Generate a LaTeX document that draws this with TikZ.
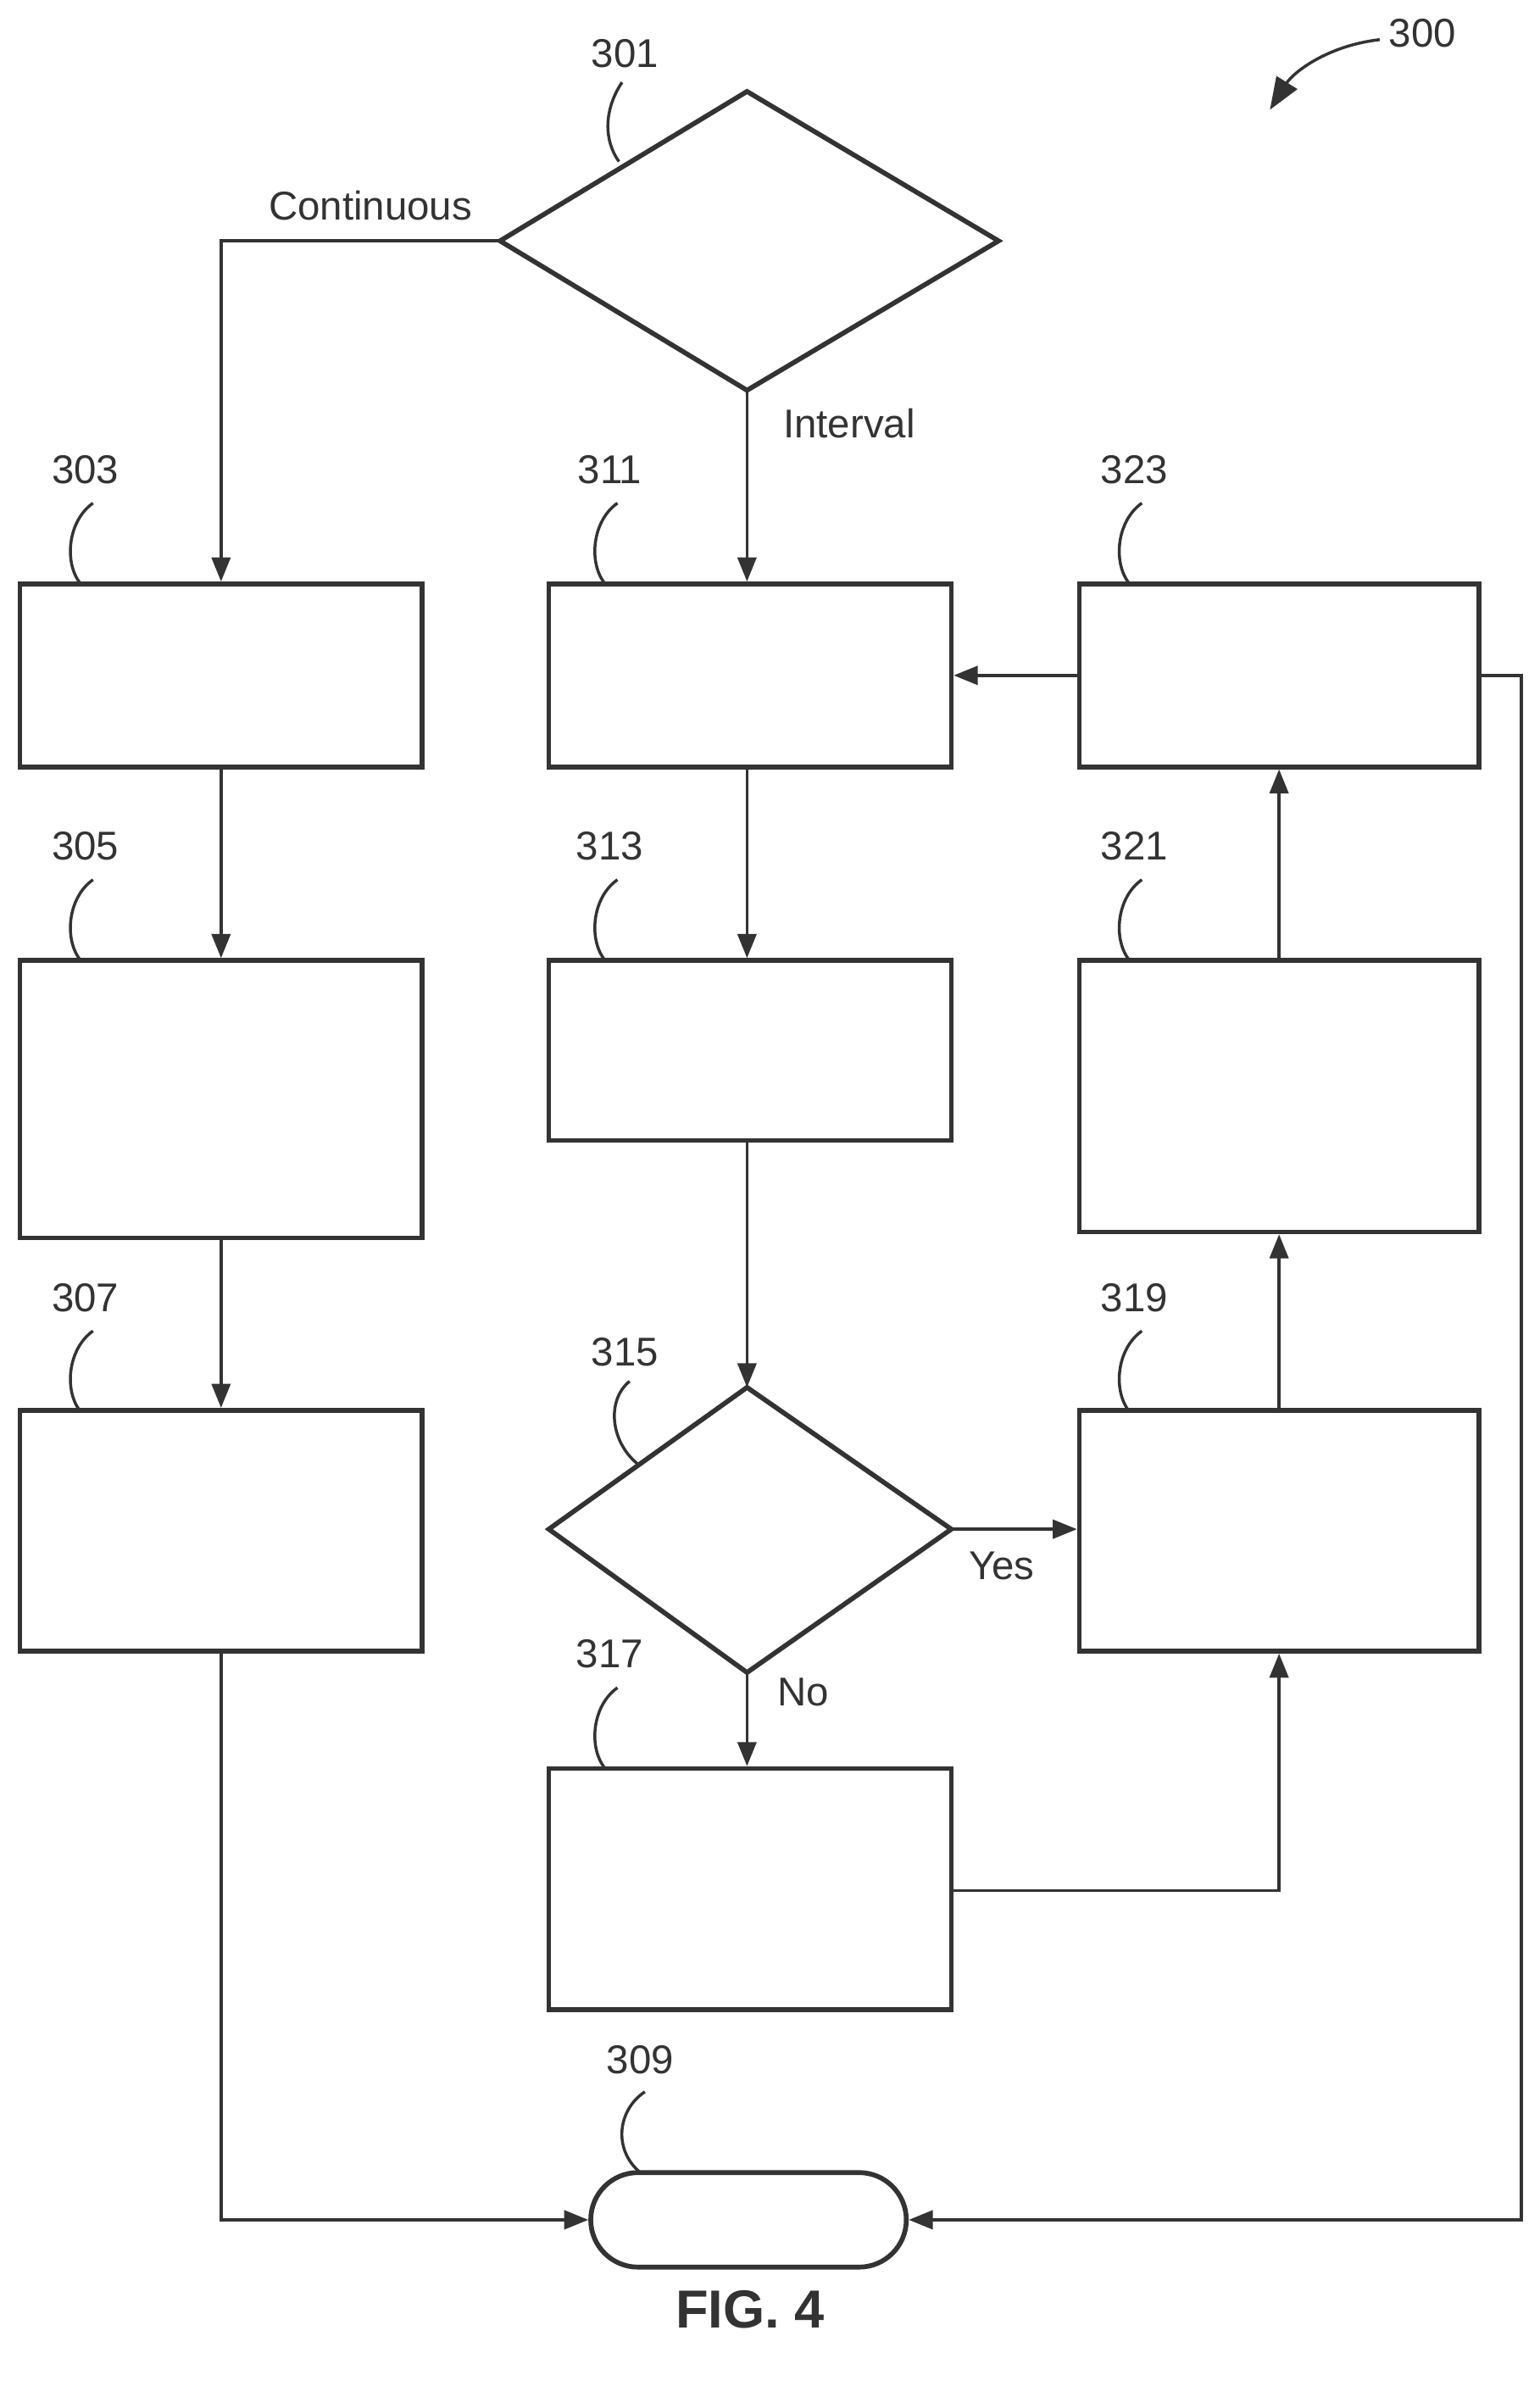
\documentclass[tikz,border=0pt]{standalone}
\usepackage{fontspec}
\setmainfont{Liberation Sans}
\usetikzlibrary{arrows.meta}
\begin{document}
\begin{tikzpicture}[x=0.02cm,y=-0.02cm,
  line width=1.1pt, draw=black!80,
  box/.style={draw=black!80,line width=1.8pt},
  conn/.style={draw=black!80,line width=1.1pt,-{Triangle[length=9pt,width=7pt]}},
  lbl/.style={font=\fontsize{15}{18}\selectfont,text=black!80},
  lead/.style={draw=black!80,line width=1.1pt}]
\useasboundingbox (0,0) rectangle (1010,1565);
% diamonds
\draw[box] (328,158) coordinate (d1l) -- (490,60) -- (655,158) -- (490,256) coordinate (d1b) -- cycle;
\draw[box] (360,1003) coordinate (d2l) -- (490,910) coordinate (d2t) -- (624,1003) coordinate (d2r) -- (490,1097) coordinate (d2b) -- cycle;
% boxes
\node[box,minimum width=264*0.02cm,minimum height=120*0.02cm,inner sep=0] (b303) at (145,443) {};
\node[box,minimum width=264*0.02cm,minimum height=120*0.02cm,inner sep=0] (b311) at (492,443) {};
\node[box,minimum width=262*0.02cm,minimum height=120*0.02cm,inner sep=0] (b323) at (839,443) {};
\node[box,minimum width=264*0.02cm,minimum height=182*0.02cm,inner sep=0] (b305) at (145,721) {};
\node[box,minimum width=264*0.02cm,minimum height=118*0.02cm,inner sep=0] (b313) at (492,689) {};
\node[box,minimum width=262*0.02cm,minimum height=178*0.02cm,inner sep=0] (b321) at (839,719) {};
\node[box,minimum width=264*0.02cm,minimum height=158*0.02cm,inner sep=0] (b307) at (145,1004) {};
\node[box,minimum width=262*0.02cm,minimum height=158*0.02cm,inner sep=0] (b319) at (839,1004) {};
\node[box,minimum width=264*0.02cm,minimum height=158*0.02cm,inner sep=0] (b317) at (492,1239) {};
\node[box,rounded corners=31*0.02cm,minimum width=207*0.02cm,minimum height=62*0.02cm,inner sep=0] (b309) at (491,1456) {};
% connectors
\draw[conn] (d1l) -- (145,158) -- (b303.north);
\draw[conn] (d1b) -- (b311.north -| d1b);
\draw[conn] (b303) -- (b305);
\draw[conn] (b305) -- (b307);
\draw[conn] (b307.south) -- (145,1456) -- (b309.west);
\draw[conn] (b311.south -| d1b) -- (b313.north -| d1b);
\draw[conn] (b313.south -| d2t) -- (d2t);
\draw[conn] (d2r) -- (b319.west |- d2r);
\draw[conn] (d2b) -- (b317.north -| d2b);
\draw[conn] (b317.east |- 0,1240) -- (839,1240) -- (b319.south);
\draw[conn] (b319) -- (b321);
\draw[conn] (b321) -- (b323);
\draw[conn] (b323.west) -- (b311.east);
\draw[conn] (b323.east) -- (998,443) -- (998,1456) -- (b309.east);
% labels
\node[lbl] (t301) at (410,35) {301};
\draw[lead] (408,54) .. controls (396,72) and (396,92) .. (406,106);
\node[lbl] (tc) at (243,135) {Continuous};
\node[lbl] (ti) at (557,278) {Interval};
\node[lbl] (t300) at (933,22) {300};
\coordinate (a300) at (833,72);
\draw[lead,-{Triangle[length=12pt,width=9pt]}] (905,26) .. controls (870,30) and (848,48) .. (a300);
\foreach \t/\x/\y in {303/56/308,311/400/308,323/744/308,305/56/555,313/400/555,321/744/555,307/56/851,319/744/851,317/400/1085}{
  \node[lbl] (t\t) at (\x,\y) {\t};
  \draw[lead] (\x+5,\y+22) .. controls (\x-12,\y+34) and (\x-14,\y+62) .. (\x-3,\y+75);
}
\node[lbl] (t315) at (410,887) {315};
\draw[lead] (413,906) .. controls (398,918) and (400,945) .. (418,960);
\node[lbl] (t309) at (420,1351) {309};
\draw[lead] (423,1372) .. controls (405,1384) and (402,1410) .. (420,1425);
\node[lbl] (ty) at (657,1027) {Yes};
\node[lbl] (tn) at (527,1110) {No};
\node[font=\bfseries\fontsize{20}{24}\selectfont,text=black!80] (fig) at (492,1515) {FIG. 4};
\end{tikzpicture}
\end{document}
